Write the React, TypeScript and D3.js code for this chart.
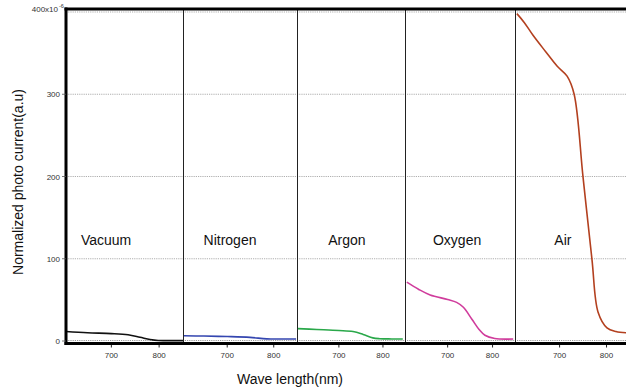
import React from "react";
import * as d3 from "d3";

const panelNames = ["Vacuum", "Nitrogen", "Argon", "Oxygen", "Air"];
const panelColors = ["#111111", "#3446b0", "#2aa84a", "#d03c9c", "#b3401f"];
const panelEdges = [66, 183, 297, 405, 515, 630];
const labelWavelengths = [689, 706, 718, 721, 707];
const xDomain = [605, 850];
const xTicks = [700, 800];
const yTicks = [0, 100, 200, 300];

const vacuumX = [605, 650, 700, 735, 760, 781, 798, 820, 850];
const vacuumY = [11.5, 10, 9, 7.5, 4.5, 1.8, 0.6, 0.5, 0.5];
const nitrogenX = [607, 650, 700, 749, 785, 820, 848];
const nitrogenY = [6.4, 6, 5.4, 4.4, 2.6, 2.4, 2.4];
const argonX = [607, 650, 700, 732, 755, 777, 793, 820, 845];
const argonY = [15, 14, 12.8, 11.5, 8, 3.8, 2.8, 2.5, 2.4];
const oxygenX = [609, 635, 661, 700, 720, 735, 754, 770, 783, 805, 846];
const oxygenY = [71.5, 63, 56, 50.5, 47, 41, 26.5, 14, 7, 3, 2.4];
const airX = [609, 625, 643, 670, 695, 716, 731, 750, 769, 782, 801, 820, 842];
const airY = [398, 387, 372, 352, 334, 322, 300, 199, 99, 35, 16, 11.5, 10];

const seriesX = [vacuumX, nitrogenX, argonX, oxygenX, airX];
const seriesY = [vacuumY, nitrogenY, argonY, oxygenY, airY];

const W = 626;
const H = 389;
const top = 9;
const bottom = 343.5;

export default function App() {
  const y = d3.scaleLinear().domain([0, 400]).range([341, 12]);
  const font = "Liberation Sans, Arial, sans-serif";
  const left = panelEdges[0];
  const right = W;

  return (
    <svg
      width={W}
      height={H}
      style={{ position: "absolute", left: 0, top: 0, background: "#fff" }}
      fontFamily={font}
    >
      {[100, 200, 300, 400].map((v) => (
        <line
          key={"g" + v}
          x1={left}
          x2={right}
          y1={y(v)}
          y2={y(v)}
          stroke="#9a9a9a"
          strokeWidth={0.8}
          strokeDasharray="1.2,1"
        />
      ))}
      <line
        x1={left}
        x2={right}
        y1={y(0) - 0.5}
        y2={y(0) - 0.5}
        stroke="#9a9a9a"
        strokeWidth={1.2}
        strokeDasharray="1.2,1"
      />

      {panelNames.map((name, i) => {
        const x0 = panelEdges[i];
        const x1 = panelEdges[i + 1];
        const x = d3.scaleLinear().domain(xDomain).range([x0, x1]);
        const line = d3
          .line<number>()
          .x((_, k) => x(seriesX[i][k]))
          .y((d) => y(d))
          .curve(d3.curveCatmullRom.alpha(0.5));
        return (
          <g key={name}>
            {i > 0 && (
              <line x1={x0 + 0.5} x2={x0 + 0.5} y1={top} y2={bottom} stroke="#222" strokeWidth={1} />
            )}
            <path d={line(seriesY[i]) || ""} fill="none" stroke={panelColors[i]} strokeWidth={1.6} />
            <text x={x(labelWavelengths[i])} y={245} fontSize={14} textAnchor="middle" fill="#111">
              {name}
            </text>
            {xTicks.map((t) => (
              <g key={t}>
                <line x1={x(t)} x2={x(t)} y1={bottom} y2={bottom + 4} stroke="#222" strokeWidth={1} />
                <text x={x(t)} y={358} fontSize={8} textAnchor="middle" fill="#333">
                  {t}
                </text>
              </g>
            ))}
          </g>
        );
      })}

      <line x1={left - 1.5} x2={W} y1={top} y2={top} stroke="#000" strokeWidth={3} />
      <line x1={left - 1.5} x2={W} y1={bottom} y2={bottom} stroke="#000" strokeWidth={3} />
      <line x1={left} x2={left} y1={top - 1.5} y2={bottom + 1.5} stroke="#000" strokeWidth={3} />

      {yTicks.map((v) => (
        <g key={"y" + v}>
          <line x1={left - 4} x2={left} y1={y(v)} y2={y(v)} stroke="#555" strokeWidth={0.8} />
          <text x={left - 6} y={y(v) + 3} fontSize={8} textAnchor="end" fill="#333">
            {v}
          </text>
        </g>
      ))}
      <text x={58} y={12} fontSize={8} textAnchor="end" fill="#333">
        400x10
      </text>
      <text x={59} y={8} fontSize={5.5} fill="#333">
        -6
      </text>

      <text x={290} y={384} fontSize={14} textAnchor="middle" fill="#111">
        Wave length(nm)
      </text>
      <text
        transform="translate(23,182) rotate(-90)"
        fontSize={14}
        textAnchor="middle"
        fill="#111"
      >
        Normalized photo current(a.u)
      </text>
    </svg>
  );
}
